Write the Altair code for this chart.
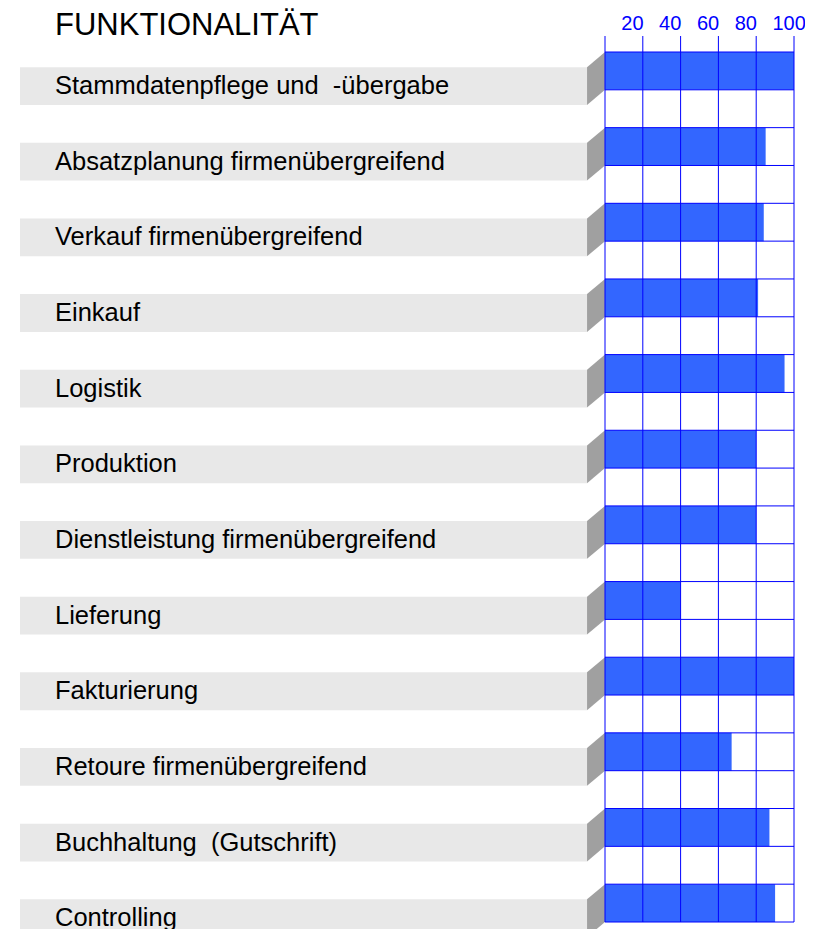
import altair as alt
import pandas as pd

categories = [
    "Stammdatenpflege und  -übergabe",
    "Absatzplanung firmenübergreifend",
    "Verkauf firmenübergreifend",
    "Einkauf",
    "Logistik",
    "Produktion",
    "Dienstleistung firmenübergreifend",
    "Lieferung",
    "Fakturierung",
    "Retoure firmenübergreifend",
    "Buchhaltung  (Gutschrift)",
    "Controlling",
]
values = [100, 85, 84, 81, 95, 80, 80, 40, 100, 67, 87, 90]
tick_values = [0, 20, 40, 60, 80, 100]
axis_labels = [20, 40, 60, 80, 100]
title_text = "FUNKTIONALITÄT"

# layout constants
BLUE = "#0000ff"
BAR = "#3366ff"
BOX = "#e8e8e8"
SLANT = "#a0a0a0"
SHIFT = 0.4          # label box offset (in half-rows)
SLANT_W = 9.5        # slant width in x units

rows = []
for i, (c, v) in enumerate(zip(categories, values)):
    rows.append({"cat": c.replace("  ", " \u00a0"), "val": v, "zero": 0,
                 "y0": 2 * i, "y1": 2 * i + 1,
                 "ly0": 2 * i + SHIFT, "ly1": 2 * i + 1 + SHIFT, "lmid": 2 * i + 0.5 + SHIFT})
df = pd.DataFrame(rows)

slant_rows = []
for i, c in enumerate(categories):
    slant_rows.append({"cat": c, "x": -SLANT_W, "top": 2 * i + SHIFT, "bot": 2 * i + 1 + SHIFT})
    slant_rows.append({"cat": c, "x": 0, "top": 2 * i, "bot": 2 * i + 1})
sdf = pd.DataFrame(slant_rows)

nhalf = 2 * len(categories) - 1
hdf = pd.DataFrame({"k": list(range(nhalf + 1)), "a": 0, "b": 100})
vdf = pd.DataFrame({"t": tick_values, "bottom": nhalf})
adf = pd.DataFrame({"t": axis_labels, "lab": [str(v) for v in axis_labels]})

xs = alt.Scale(domain=[0, 100], range=[597, 786], nice=False, zero=False)
ys = alt.Scale(domain=[0, nhalf], range=[16, 886], nice=False, zero=False)

boxes = alt.Chart(df).mark_rect(color=BOX).encode(
    x=alt.value(12), x2=alt.value(579),
    y=alt.Y("ly0:Q", scale=ys, axis=None), y2="ly1:Q",
)

slants = alt.Chart(sdf).mark_area(color=SLANT, orient="vertical", opacity=1).encode(
    x=alt.X("x:Q", scale=xs, axis=None),
    y=alt.Y("top:Q", scale=ys, axis=None), y2="bot:Q",
    detail="cat:N",
)

labels = alt.Chart(df).mark_text(
    align="left", baseline="middle", fontSize=25.5, font="Liberation Sans", color="black"
).encode(
    x=alt.value(47),
    y=alt.Y("lmid:Q", scale=ys, axis=None),
    text="cat:N",
)

bars = alt.Chart(df).mark_rect(color=BAR).encode(
    x=alt.X("zero:Q", scale=xs, axis=None),
    x2="val:Q",
    y=alt.Y("y0:Q", scale=ys, axis=None), y2="y1:Q",
)

hlines = alt.Chart(hdf).mark_rule(color=BLUE, strokeWidth=1).encode(
    x=alt.X("a:Q", scale=xs, axis=None), x2="b:Q",
    y=alt.Y("k:Q", scale=ys, axis=None),
)

vlines = alt.Chart(vdf).mark_rule(color=BLUE, strokeWidth=1).encode(
    x=alt.X("t:Q", scale=xs, axis=None),
    y=alt.Y("bottom:Q", scale=ys, axis=None), y2=alt.value(0),
)

ticklabels = alt.Chart(adf).mark_text(
    align="left", baseline="alphabetic", dx=-21.5, fontSize=20,
    font="Liberation Sans", color=BLUE
).encode(
    x=alt.X("t:Q", scale=xs, axis=None),
    y=alt.value(-6),
    text="lab:N",
)

title = alt.Chart(pd.DataFrame({"t": [title_text]})).mark_text(
    align="left", baseline="alphabetic", fontSize=31, font="Liberation Sans", color="black"
).encode(x=alt.value(47), y=alt.value(-1.5), text="t:N")

chart = alt.layer(boxes, slants, labels, bars, hlines, vlines, ticklabels, title).properties(
    width=797, height=893,
    padding={"left": 0, "top": 28, "right": 0, "bottom": 0},
    autosize=alt.AutoSizeParams(type="none"),
).configure_view(stroke=None)

chart.save("out.html", embed_options={"renderer": "svg", "actions": False})
